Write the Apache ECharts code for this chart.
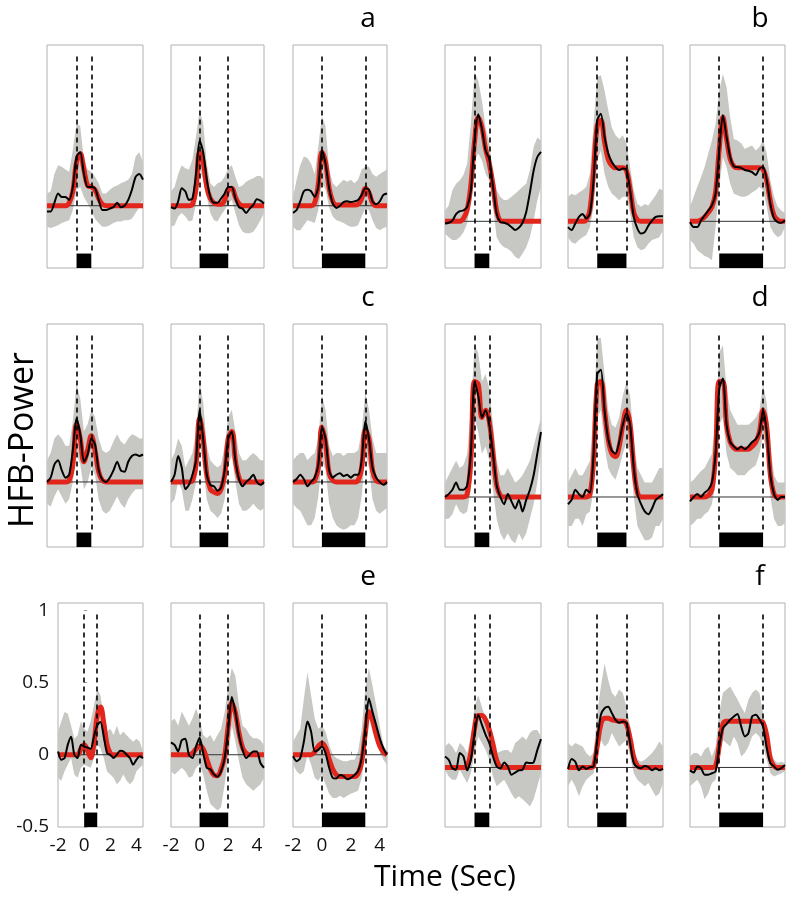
<!DOCTYPE html>
<html><head><meta charset="utf-8">
<script src="https://cdn.jsdelivr.net/npm/echarts@6/dist/echarts.min.js"></script>
<style>html,body{margin:0;padding:0;background:#fff}#chart{width:800px;height:905px}</style>
</head><body><div id="chart"></div>
<script>
// ---------- data ----------
const time = [-2,-1.75,-1.5,-1.25,-1,-0.75,-0.5,-0.25,0,0.25,0.5,0.75,1,1.25,1.5,1.75,2,2.25,2.5,2.75,3,3.25,3.5,3.75,4,4.25,4.5];
const durations = [1, 2, 3];
const xTicks = [-2, 0, 2, 4];
const yTicks = [-0.5, 0, 0.5, 1];
const panelLetters = ['a','b','c','d','e','f'];
const xLabel = 'Time (Sec)';
const yLabel = 'HFB-Power';

// panel a (row 1, left)
const a1_black = [-0.04,-0.04,0.02,0.085,0.06,0.06,0.04,0.13,0.34,0.37,0.22,0.13,0.13,0.12,0.04,-0.03,-0.03,-0.02,-0.01,0.02,-0.01,0.0,0.04,0.11,0.2,0.22,0.18];
const a1_red   = [0,0,0,0,0,0,0.02,0.1,0.3,0.36,0.25,0.14,0.13,0.11,0.05,0.01,0,0,0,0,0,0,0,0,0,0,0];
const a1_upper = [0.085,0.1,0.22,0.28,0.27,0.25,0.235,0.385,0.57,0.55,0.32,0.25,0.235,0.2,0.155,0.085,0.085,0.11,0.13,0.14,0.155,0.165,0.18,0.22,0.34,0.37,0.3];
const a1_lower = [-0.145,-0.155,-0.145,-0.135,-0.12,-0.11,-0.1,-0.03,0.11,0.13,0.06,0.015,-0.03,-0.09,-0.12,-0.145,-0.145,-0.135,-0.12,-0.11,-0.11,-0.1,-0.1,-0.09,-0.05,-0.01,0.05];

const a2_black = [-0.01,-0.02,0.03,0.12,0.1,0.04,0.05,0.22,0.45,0.37,0.18,0.06,0.02,0.02,0.05,0.085,0.13,0.13,0.05,-0.01,-0.02,-0.05,-0.02,0.005,0.045,0.035,0.015];
const a2_red   = [0,0,0,0,0,0,0.01,0.12,0.37,0.3,0.13,0.05,0.02,0.01,0.01,0.04,0.11,0.12,0.06,0.015,0,0,0,0,0,0,0];
const a2_upper = [0.1,0.13,0.22,0.28,0.26,0.25,0.32,0.48,0.66,0.57,0.29,0.155,0.13,0.155,0.165,0.2,0.26,0.28,0.2,0.13,0.14,0.165,0.18,0.19,0.205,0.205,0.18];
const a2_lower = [-0.145,-0.135,-0.075,-0.05,-0.075,-0.11,-0.1,0.015,0.25,0.18,0.06,-0.05,-0.1,-0.11,-0.065,-0.03,0.015,0.04,-0.05,-0.135,-0.18,-0.19,-0.19,-0.18,-0.145,-0.1,-0.05];

const a3_black = [-0.05,-0.03,0.03,0.1,0.11,0.1,0.06,0.13,0.385,0.29,0.12,0.015,-0.015,0,0.025,0.03,0.025,0.03,0.04,0.075,0.12,0.11,0.03,0.01,0.03,0.075,0.085];
const a3_red   = [0,0,0,0,0,0,0.02,0.15,0.37,0.3,0.12,0.03,0.005,0.005,0.005,0.005,0.005,0.005,0.01,0.05,0.12,0.09,0.02,0,0,0,0];
const a3_upper = [0.06,0.18,0.28,0.34,0.33,0.29,0.22,0.41,0.62,0.55,0.25,0.155,0.13,0.155,0.18,0.165,0.18,0.155,0.18,0.25,0.27,0.27,0.22,0.2,0.22,0.235,0.25];
const a3_lower = [-0.145,-0.17,-0.17,-0.135,-0.1,-0.11,-0.12,-0.03,0.155,0.11,-0.01,-0.075,-0.1,-0.11,-0.12,-0.135,-0.145,-0.145,-0.135,-0.075,-0.02,-0.03,-0.1,-0.155,-0.17,-0.155,-0.145];

// panel b (row 1, right)
const b1_black = [-0.015,-0.01,0.005,0.05,0.07,0.075,0.1,0.21,0.56,0.74,0.64,0.49,0.43,0.24,0.05,-0.005,-0.01,-0.02,-0.04,-0.06,-0.045,-0.01,0.065,0.2,0.35,0.445,0.48];
const b1_red   = [0,0,0,0,0,0.02,0.08,0.25,0.55,0.72,0.65,0.5,0.4,0.25,0.07,0.005,0,0,0,0,0,0,0,0,0,0,0];
const b1_upper = [0.075,0.11,0.215,0.26,0.285,0.32,0.4,0.675,1.03,0.975,0.835,0.65,0.54,0.33,0.215,0.17,0.145,0.15,0.17,0.19,0.215,0.24,0.26,0.355,0.515,0.58,0.56];
const b1_lower = [-0.085,-0.11,-0.13,-0.13,-0.11,-0.075,-0.015,0.145,0.42,0.47,0.42,0.33,0.285,0.1,-0.11,-0.155,-0.18,-0.19,-0.21,-0.245,-0.26,-0.225,-0.18,-0.11,0.005,0.145,0.24];

const b2_black = [-0.04,-0.06,-0.015,0.03,0.05,0.02,0.055,0.285,0.7,0.745,0.585,0.47,0.41,0.375,0.355,0.365,0.355,0.215,0.03,-0.05,-0.085,-0.075,-0.03,0.005,0.03,0.035,0.035];
const b2_red   = [0,0,0,0,0,0.01,0.08,0.35,0.66,0.7,0.55,0.43,0.385,0.37,0.37,0.37,0.35,0.22,0.06,0.01,0,0,0,0,0,0,0];
const b2_upper = [0.17,0.19,0.18,0.2,0.215,0.24,0.33,0.675,1.0,1.01,0.905,0.77,0.65,0.595,0.57,0.595,0.54,0.375,0.215,0.12,0.1,0.12,0.11,0.145,0.18,0.225,0.215];
const b2_lower = [-0.11,-0.145,-0.155,-0.13,-0.11,-0.095,-0.04,0.1,0.42,0.49,0.33,0.24,0.19,0.17,0.145,0.17,0.17,0.055,-0.11,-0.18,-0.2,-0.19,-0.155,-0.13,-0.12,-0.11,-0.06];

const b3_black = [-0.005,-0.04,-0.04,0.005,0.04,0.075,0.11,0.19,0.49,0.735,0.585,0.445,0.38,0.375,0.37,0.355,0.35,0.34,0.32,0.365,0.375,0.285,0.12,0.02,-0.005,-0.01,0.005];
const b3_red   = [0,0,0,0.01,0.03,0.06,0.1,0.2,0.5,0.72,0.57,0.43,0.38,0.37,0.37,0.37,0.37,0.37,0.37,0.37,0.36,0.28,0.14,0.04,0.01,0,0];
const b3_upper = [0.1,0.17,0.24,0.305,0.375,0.47,0.56,0.675,0.905,1.02,0.93,0.72,0.57,0.56,0.54,0.5,0.515,0.525,0.49,0.515,0.56,0.47,0.285,0.17,0.1,0.075,0.055];
const b3_lower = [-0.13,-0.155,-0.2,-0.22,-0.24,-0.25,-0.27,-0.04,0.24,0.445,0.375,0.26,0.19,0.18,0.17,0.17,0.18,0.2,0.215,0.24,0.215,0.1,-0.04,-0.085,-0.11,-0.095,-0.04];

// panel c (row 2, left)
const c1_black = [0,0.03,0.12,0.15,0.08,0.03,0.05,0.22,0.44,0.33,0.14,0.19,0.3,0.26,0.08,0.015,0,0.03,0.08,0.14,0.08,0.07,0.14,0.18,0.19,0.18,0.19];
const c1_red   = [0,0,0,0,0,0,0.01,0.12,0.4,0.3,0.14,0.22,0.32,0.22,0.07,0.01,0,0,0,0,0,0,0,0,0,0,0];
const c1_upper = [0.15,0.2,0.3,0.33,0.3,0.25,0.25,0.42,0.68,0.58,0.35,0.4,0.5,0.45,0.3,0.22,0.2,0.22,0.28,0.33,0.28,0.26,0.3,0.33,0.32,0.3,0.3];
const c1_lower = [-0.15,-0.17,-0.1,-0.05,-0.1,-0.15,-0.12,0.0,0.2,0.12,-0.05,0.0,0.1,0.05,-0.12,-0.2,-0.22,-0.2,-0.15,-0.1,-0.15,-0.18,-0.12,-0.08,-0.05,-0.05,-0.05];

const c2_black = [0.0,0.05,0.18,0.1,-0.05,-0.02,0.05,0.15,0.5,0.3,0.05,-0.02,-0.03,-0.06,-0.04,0.08,0.3,0.35,0.15,0.02,-0.03,0.0,0.02,0.05,0.0,-0.02,0.0];
const c2_red   = [0,0,0,0,0,0,0.01,0.12,0.44,0.3,0.05,-0.05,-0.07,-0.08,-0.05,0.05,0.3,0.35,0.15,0.03,0,0,0,0,0,0,0];
const c2_upper = [0.15,0.2,0.3,0.25,0.1,0.15,0.2,0.35,0.7,0.55,0.25,0.15,0.12,0.1,0.12,0.25,0.45,0.5,0.35,0.2,0.15,0.15,0.18,0.2,0.18,0.15,0.15];
const c2_lower = [-0.15,-0.12,0.0,-0.05,-0.2,-0.2,-0.12,0.0,0.28,0.1,-0.12,-0.2,-0.22,-0.25,-0.22,-0.12,0.12,0.18,0.0,-0.15,-0.2,-0.2,-0.18,-0.15,-0.18,-0.2,-0.18];

const c3_black = [0.0,0.02,0.05,0.02,-0.03,0.0,0.03,0.12,0.38,0.3,0.08,0.03,0.05,0.06,0.04,0.05,0.03,0.05,0.05,0.15,0.42,0.3,0.1,0.03,0.0,-0.02,0.0];
const c3_red   = [0,0,0,0,0,0,0.01,0.1,0.38,0.27,0.06,0.01,0,0,0,0,0,0,0.01,0.1,0.36,0.3,0.08,0.01,0,0,0];
const c3_upper = [0.15,0.18,0.2,0.2,0.15,0.18,0.2,0.3,0.6,0.5,0.25,0.18,0.2,0.2,0.18,0.2,0.2,0.2,0.22,0.35,0.62,0.5,0.3,0.2,0.2,0.2,0.2];
const c3_lower = [-0.15,-0.18,-0.2,-0.25,-0.3,-0.3,-0.25,-0.1,0.15,0.08,-0.15,-0.25,-0.3,-0.32,-0.33,-0.32,-0.3,-0.3,-0.25,-0.1,0.2,0.1,-0.12,-0.2,-0.22,-0.2,-0.18];

// panel d (row 2, right)
const d1_black = [0.0,0.02,0.05,0.1,0.05,0.05,0.08,0.3,0.8,0.7,0.55,0.6,0.5,0.3,0.08,0.0,-0.05,0.02,-0.03,-0.08,-0.02,-0.1,-0.02,0.05,0.15,0.3,0.45];
const d1_red   = [0,0,0,0,0,0,0.02,0.25,0.8,0.78,0.55,0.6,0.52,0.3,0.08,0.01,0,0,0,0,0,0,0,0,0,0,0];
const d1_upper = [0.1,0.15,0.2,0.25,0.2,0.22,0.3,0.6,1.05,1.0,0.8,0.85,0.75,0.5,0.25,0.15,0.15,0.2,0.15,0.1,0.12,0.15,0.2,0.25,0.35,0.45,0.55];
const d1_lower = [-0.15,-0.15,-0.12,-0.05,-0.1,-0.12,-0.1,0.05,0.55,0.45,0.3,0.35,0.25,0.05,-0.15,-0.25,-0.3,-0.25,-0.3,-0.32,-0.25,-0.3,-0.25,-0.15,-0.05,0.1,0.3];

const d2_black = [-0.05,-0.02,0.05,0.02,0.0,0.05,0.03,0.3,0.85,0.88,0.6,0.4,0.32,0.3,0.38,0.5,0.58,0.5,0.2,0.02,-0.05,-0.1,-0.12,-0.08,-0.02,0.0,0.02];
const d2_red   = [0,0,0,0,0,0,0.02,0.25,0.78,0.8,0.6,0.4,0.3,0.28,0.35,0.5,0.6,0.5,0.2,0.03,0,0,0,0,0,0,0];
const d2_upper = [0.1,0.15,0.2,0.15,0.15,0.2,0.25,0.6,1.1,1.1,0.85,0.6,0.5,0.48,0.55,0.7,0.8,0.7,0.4,0.2,0.15,0.1,0.1,0.1,0.15,0.2,0.2];
const d2_lower = [-0.2,-0.2,-0.15,-0.15,-0.2,-0.12,-0.1,0.05,0.55,0.6,0.35,0.2,0.15,0.12,0.2,0.3,0.38,0.3,0.0,-0.2,-0.25,-0.3,-0.3,-0.28,-0.2,-0.2,-0.15];

const d3_black = [-0.03,0.0,0.02,0.0,0.03,0.05,0.1,0.3,0.75,0.82,0.5,0.38,0.35,0.33,0.35,0.33,0.35,0.38,0.4,0.45,0.6,0.45,0.15,0.02,-0.02,0.0,0.0];
const d3_red   = [0,0,0,0,0,0.01,0.05,0.3,0.8,0.8,0.5,0.38,0.34,0.33,0.33,0.33,0.33,0.35,0.38,0.45,0.6,0.48,0.15,0.02,0,0,0];
const d3_upper = [0.1,0.12,0.15,0.18,0.2,0.25,0.3,0.55,1.0,1.05,0.75,0.6,0.55,0.5,0.5,0.5,0.5,0.52,0.55,0.6,0.78,0.65,0.35,0.15,0.1,0.1,0.1];
const d3_lower = [-0.2,-0.18,-0.15,-0.15,-0.12,-0.1,-0.05,0.1,0.5,0.55,0.3,0.2,0.18,0.15,0.15,0.15,0.18,0.2,0.22,0.3,0.42,0.3,0.0,-0.15,-0.2,-0.2,-0.18];

// panel e (row 3, left)
const e1_black = [0.023,-0.034,-0.023,0.07,0.125,0,-0.023,0.07,0.057,0.05,0.04,0.125,0.205,0.227,0.125,0.011,0,-0.023,0,0.027,0.023,0,-0.023,-0.068,-0.034,-0.011,-0.023];
const e1_red   = [0,0,0,0,0,0,0,0.04,0.07,0.03,-0.02,0.08,0.27,0.33,0.22,0.07,0.01,0,0,0,0,0,0,0,0,0,0];
const e1_upper = [0.16,0.23,0.295,0.285,0.2,0.11,0.135,0.23,0.18,0.16,0.23,0.34,0.455,0.41,0.25,0.16,0.18,0.135,0.2,0.135,0.16,0.135,0.11,0.09,0.11,0.09,0.023];
const e1_lower = [-0.16,-0.18,-0.115,-0.07,-0.023,-0.136,-0.16,-0.09,-0.07,-0.08,-0.09,-0.023,0.068,0.045,-0.023,-0.115,-0.136,-0.16,-0.205,-0.18,-0.136,-0.18,-0.205,-0.18,-0.115,-0.09,-0.068];

const e2_black = [0.086,0.068,0.023,0.1,0.11,0,-0.023,0.057,0.118,0.011,-0.09,-0.1,-0.136,-0.152,-0.114,-0.023,0.18,0.4,0.295,0.136,0.034,-0.023,0,0.023,0.023,-0.057,-0.09];
const e2_red   = [0,0,0,0,0,0,0.01,0.04,0.06,0.04,-0.03,-0.1,-0.14,-0.145,-0.1,-0.01,0.2,0.36,0.29,0.15,0.05,0.01,0,0,0,0,0];
const e2_upper = [0.23,0.25,0.2,0.3,0.25,0.2,0.25,0.32,0.25,0.136,0.114,0.136,0.09,0.136,0.18,0.295,0.477,0.6,0.545,0.34,0.2,0.18,0.136,0.114,0.114,0.1,0.068];
const e2_lower = [-0.114,-0.136,-0.114,-0.09,-0.114,-0.16,-0.148,-0.09,-0.068,-0.136,-0.25,-0.34,-0.364,-0.386,-0.364,-0.205,-0.023,0.2,0.09,-0.045,-0.16,-0.205,-0.227,-0.25,-0.227,-0.205,-0.16];

const e3_black = [-0.011,-0.045,-0.023,0.09,0.23,0.16,0.023,0.034,0.057,0.011,-0.09,-0.16,-0.164,-0.14,-0.148,-0.17,-0.16,-0.14,-0.114,-0.023,0.18,0.39,0.295,0.205,0.114,0.045,0];
const e3_red   = [0,0,0,0,0,0,0.02,0.06,0.08,0.05,-0.03,-0.1,-0.14,-0.15,-0.15,-0.15,-0.15,-0.15,-0.13,-0.05,0.15,0.3,0.24,0.14,0.06,0.02,0];
const e3_upper = [0.09,0.136,0.18,0.386,0.57,0.41,0.25,0.18,0.2,0.16,0.068,0,-0.023,-0.034,-0.045,-0.045,-0.034,-0.034,0.023,0.18,0.455,0.6,0.477,0.34,0.2,0.068,0.023];
const e3_lower = [-0.068,-0.114,-0.136,-0.114,0,-0.068,-0.16,-0.18,-0.136,-0.205,-0.27,-0.3,-0.3,-0.284,-0.3,-0.284,-0.27,-0.26,-0.25,-0.16,0.023,0.25,0.16,0.09,0.023,-0.034,-0.068];

// panel f (row 3, right)
const f1_black = [0.076,0.053,-0.005,-0.016,0.1,0.076,-0.02,0.053,0.238,0.364,0.295,0.226,0.168,0.076,0.007,-0.007,0.035,0.007,-0.05,-0.035,-0.02,-0.016,0.035,0.03,0.035,0.12,0.196];
const f1_red   = [0,0,0,0,0,0,0.01,0.1,0.27,0.36,0.36,0.33,0.26,0.16,0.05,0.005,0,0,0,0,0,0,0,0,0,0,0];
const f1_upper = [0.145,0.17,0.145,0.1,0.17,0.145,0.1,0.215,0.42,0.5,0.42,0.33,0.26,0.17,0.1,0.11,0.12,0.12,0.1,0.17,0.19,0.215,0.19,0.24,0.26,0.26,0.215];
const f1_lower = [-0.016,-0.062,-0.085,-0.085,-0.016,-0.062,-0.108,-0.04,0.1,0.215,0.17,0.12,0.053,-0.062,-0.13,-0.108,-0.085,-0.13,-0.18,-0.22,-0.2,-0.22,-0.245,-0.27,-0.22,-0.13,-0.04];

const f2_black = [-0.01,0.058,0.04,-0.02,0.007,-0.01,0.002,0.007,0.19,0.365,0.41,0.42,0.376,0.33,0.31,0.318,0.307,0.168,0.03,0.002,-0.005,0.01,0.002,-0.02,-0.005,-0.02,-0.01];
const f2_red   = [0,0,0,0,0,0,0,0.01,0.15,0.3,0.34,0.34,0.33,0.325,0.32,0.32,0.3,0.2,0.07,0.01,0,0,0,0,0,0,0];
const f2_upper = [0.17,0.145,0.17,0.157,0.145,0.1,0.076,0.1,0.376,0.56,0.72,0.607,0.515,0.49,0.54,0.515,0.42,0.284,0.122,0.053,0.04,0.053,0.076,0.1,0.134,0.18,0.145];
const f2_lower = [-0.13,-0.085,-0.13,-0.2,-0.13,-0.085,-0.062,-0.04,0.076,0.19,0.145,0.168,0.238,0.19,0.145,0.168,0.19,0.076,-0.04,-0.085,-0.108,-0.13,-0.108,-0.155,-0.2,-0.18,-0.108];

const f3_black = [-0.02,-0.035,0.007,-0.005,-0.05,-0.05,-0.04,-0.028,0.145,0.272,0.3,0.33,0.353,0.37,0.284,0.215,0.238,0.353,0.364,0.334,0.284,0.134,0.03,0.007,-0.016,-0.005,0.018];
const f3_red   = [0,0,0,0,0,0,0,0.01,0.15,0.3,0.32,0.32,0.32,0.32,0.32,0.32,0.32,0.32,0.32,0.32,0.31,0.22,0.06,0.01,0,0,0];
const f3_upper = [0.076,0.1,0.1,0.076,0.122,0.145,0.076,0.145,0.376,0.515,0.54,0.56,0.515,0.47,0.42,0.376,0.47,0.515,0.54,0.515,0.376,0.238,0.1,0.053,0.03,0.04,0.03];
const f3_lower = [-0.13,-0.108,-0.085,-0.13,-0.22,-0.18,-0.108,-0.085,0.076,0.19,0.168,0.145,0.215,0.168,0.076,0.1,0.145,0.215,0.238,0.215,0.145,0.053,-0.04,-0.062,-0.05,-0.04,-0.028];

// ---------- layout / styling ----------
const FONT = '"Open Sans", "Noto Sans", sans-serif';
const X_MIN = -2, X_MAX = 4.5;
const yLimits = {
  a: [-0.431, 1.112], b: [-0.323, 1.22],
  c: [-0.45, 1.093],  d: [-0.346, 1.197],
  e: [-0.5, 1.05],    f: [-0.412, 1.138]
};
const rowTops = [45, 324, 603];
const rowHeights = [223, 223, 224];
const colLefts = [47, 171, 293, 445, 568, 690];
const colWidths = [96, 93, 94, 96, 95, 95];
const BAR_H = 0.1;        // height of the stimulus bar in data units
const DASH_TOP_GAP = 0.08;

const groups = [
  { letter: 'a', row: 0, side: 0, panels: [[a1_upper,a1_lower,a1_red,a1_black],[a2_upper,a2_lower,a2_red,a2_black],[a3_upper,a3_lower,a3_red,a3_black]] },
  { letter: 'b', row: 0, side: 1, panels: [[b1_upper,b1_lower,b1_red,b1_black],[b2_upper,b2_lower,b2_red,b2_black],[b3_upper,b3_lower,b3_red,b3_black]] },
  { letter: 'c', row: 1, side: 0, panels: [[c1_upper,c1_lower,c1_red,c1_black],[c2_upper,c2_lower,c2_red,c2_black],[c3_upper,c3_lower,c3_red,c3_black]] },
  { letter: 'd', row: 1, side: 1, panels: [[d1_upper,d1_lower,d1_red,d1_black],[d2_upper,d2_lower,d2_red,d2_black],[d3_upper,d3_lower,d3_red,d3_black]] },
  { letter: 'e', row: 2, side: 0, panels: [[e1_upper,e1_lower,e1_red,e1_black],[e2_upper,e2_lower,e2_red,e2_black],[e3_upper,e3_lower,e3_red,e3_black]] },
  { letter: 'f', row: 2, side: 1, panels: [[f1_upper,f1_lower,f1_red,f1_black],[f2_upper,f2_lower,f2_red,f2_black],[f3_upper,f3_lower,f3_red,f3_black]] }
];

function bandRenderer(up, lo) {
  return function (params, api) {
    if (params.dataIndex !== 0) return null;
    const pts = [];
    for (let i = 0; i < time.length; i++) pts.push(api.coord([time[i], up[i]]));
    for (let i = time.length - 1; i >= 0; i--) pts.push(api.coord([time[i], lo[i]]));
    return { type: 'polygon', shape: { points: pts }, style: { fill: '#c7c8c4', stroke: null } };
  };
}

const grids = [], xAxes = [], yAxes = [], series = [], graphics = [];
let gi = 0;
groups.forEach(g => {
  g.panels.forEach((p, k) => {
    const col = g.side * 3 + k;
    let left = colLefts[col], width = colWidths[col];
    if (g.row === 2 && col === 0) { left = 58; width = 85; }
    grids.push({ left, top: rowTops[g.row], width, height: rowHeights[g.row],
      show: true, borderColor: '#b0b0b0', borderWidth: 1, backgroundColor: 'transparent' });
    const [ymin, ymax] = yLimits[g.letter];
    const showX = g.row === 2 && g.side === 0;
    const showY = g.row === 2 && col === 0;
    xAxes.push({ type: 'value', gridIndex: gi, min: X_MIN, max: X_MAX,
      axisLine: { show: false }, splitLine: { show: false },
      axisTick: { show: showX, inside: true, length: 3, customValues: xTicks, lineStyle: { color: '#999' } },
      axisLabel: { show: showX, customValues: xTicks, margin: 9, fontSize: 19, color: '#111', fontFamily: FONT } });
    yAxes.push({ type: 'value', gridIndex: gi, min: ymin, max: ymax,
      axisLine: { show: false }, splitLine: { show: false },
      axisTick: { show: showY, inside: true, length: 3, customValues: yTicks, lineStyle: { color: '#999' } },
      axisLabel: { show: showY, customValues: yTicks, margin: 9, fontSize: 19, color: '#111', fontFamily: FONT } });

    const dur = durations[k];
    const [up, lo, red, blk] = p;
    series.push({ type: 'custom', xAxisIndex: gi, yAxisIndex: gi, clip: true, silent: true, z: 1,
      data: time.map((t, i) => [t, lo[i], up[i]]), encode: { x: 0, y: [1, 2] },
      renderItem: bandRenderer(up, lo),
      markArea: { silent: true, itemStyle: { color: '#000', borderWidth: 0 },
        data: [[{ coord: [0, ymin] }, { coord: [dur, ymin + BAR_H] }]] } });
    // zero reference line
    series.push({ type: 'line', xAxisIndex: gi, yAxisIndex: gi, data: [[X_MIN, 0], [X_MAX, 0]],
      symbol: 'none', lineStyle: { color: '#333', width: 1 }, silent: true, z: 2 });
    series.push({ type: 'line', xAxisIndex: gi, yAxisIndex: gi, data: time.map((t, i) => [t, red[i]]),
      symbol: 'none', smooth: 0.4, lineStyle: { color: '#e2261c', width: 5 }, silent: true, z: 3 });
    series.push({ type: 'line', xAxisIndex: gi, yAxisIndex: gi, data: time.map((t, i) => [t, blk[i]]),
      symbol: 'none', smooth: 0.25, lineStyle: { color: '#000', width: 2 }, silent: true, z: 4,
      markLine: { silent: true, symbol: 'none', label: { show: false },
        lineStyle: { color: '#000', width: 1.6, type: [5, 4] },
        data: [
          [{ coord: [0, ymax - DASH_TOP_GAP] }, { coord: [0, ymin + BAR_H] }],
          [{ coord: [dur, ymax - DASH_TOP_GAP] }, { coord: [dur, ymin + BAR_H] }]
        ] } });
    gi++;
  });
  graphics.push({ type: 'text', x: g.side === 0 ? 368 : 760, y: rowTops[g.row] - 26,
    style: { text: g.letter, font: '28px ' + FONT, fill: '#000', textAlign: 'center', textVerticalAlign: 'middle' } });
});

graphics.push({ type: 'text', x: 23, y: 440, rotation: Math.PI / 2,
  style: { text: yLabel, font: '34px ' + FONT, fill: '#000', textAlign: 'center', textVerticalAlign: 'middle' } });
graphics.push({ type: 'text', x: 445, y: 877,
  style: { text: xLabel, font: '30px ' + FONT, fill: '#000', textAlign: 'center', textVerticalAlign: 'middle' } });

const chart = echarts.init(document.getElementById('chart'));
chart.setOption({
  animation: false,
  backgroundColor: '#fff',
  grid: grids, xAxis: xAxes, yAxis: yAxes, series, graphic: graphics
});
</script>
</body></html>
